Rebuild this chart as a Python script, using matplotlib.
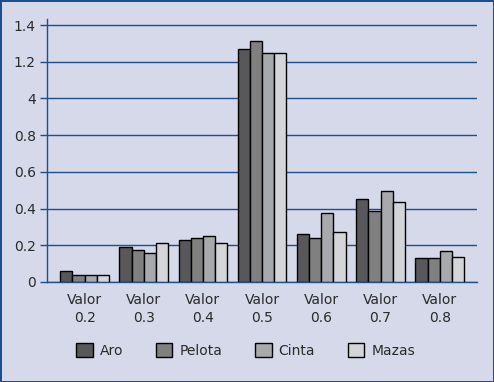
import numpy as np
import matplotlib
matplotlib.use('Agg')
import matplotlib.pyplot as plt
from matplotlib.patches import Patch

# Data
categories = ['Valor\n0.2', 'Valor\n0.3', 'Valor\n0.4', 'Valor\n0.5', 'Valor\n0.6', 'Valor\n0.7', 'Valor\n0.8']
aro = [0.06, 0.19, 0.23, 1.27, 0.26, 0.45, 0.13]
pelota = [0.04, 0.175, 0.24, 1.315, 0.24, 0.385, 0.13]
cinta = [0.04, 0.157, 0.25, 1.245, 0.375, 0.495, 0.167]
mazas = [0.04, 0.21, 0.21, 1.25, 0.27, 0.435, 0.135]
series_names = ['Aro', 'Pelota', 'Cinta', 'Mazas']
y_ticks = [0, 0.2, 0.4, 0.6, 0.8, 1.0, 1.2, 1.4]
y_tick_labels = ['0', '0.2', '0.4', '0.6', '0.8', '4', '1.2', '1.4']

colors = ['#58585a', '#808081', '#a8a9ac', '#d4d5d8']
bg = '#d5d9e9'
blue = '#1f4e8c'
text_col = '#2b2b2b'

fig = plt.figure(figsize=(4.94, 3.82), dpi=100, facecolor=bg,
                 edgecolor=blue, linewidth=2)
ax = fig.add_axes([0.0951, 0.2618, 0.8705, 0.6885])
ax.set_facecolor(bg)

x = np.arange(len(categories))
width = 0.205
for i, (vals, name) in enumerate(zip([aro, pelota, cinta, mazas], series_names)):
    ax.bar(x + (i - 1.5) * width, vals, width, color=colors[i],
           edgecolor='black', linewidth=1, label=name, zorder=3)

ax.set_xlim(-0.635, 6.63)
ax.set_ylim(0, 1.433)
ax.set_yticks(y_ticks)
ax.set_yticklabels(y_tick_labels)
ax.set_xticks(x)
ax.set_xticklabels(categories, linespacing=1.35)

ax.grid(axis='y', color=blue, linewidth=1, zorder=0)
for s in ['top', 'right']:
    ax.spines[s].set_visible(False)
ax.spines['left'].set_color(blue)
ax.spines['bottom'].set_color(blue)
ax.spines['left'].set_linewidth(1)
ax.spines['bottom'].set_linewidth(1)
ax.tick_params(axis='y', colors=blue, length=5, width=1, labelcolor=text_col,
               labelsize=10, pad=3)
ax.tick_params(axis='x', length=0, labelcolor=text_col, labelsize=10, pad=8)

handles = [Patch(facecolor=c, edgecolor='black', linewidth=1) for c in colors]
fig.legend(handles, series_names, loc='center', bbox_to_anchor=(0.497, 0.083),
           ncol=4, frameon=False, fontsize=10, handlelength=1.2, handleheight=1.2,
           columnspacing=2.35, handletextpad=0.5, labelcolor=text_col)

fig.savefig('out.png', dpi=100, facecolor=bg, edgecolor=blue)
